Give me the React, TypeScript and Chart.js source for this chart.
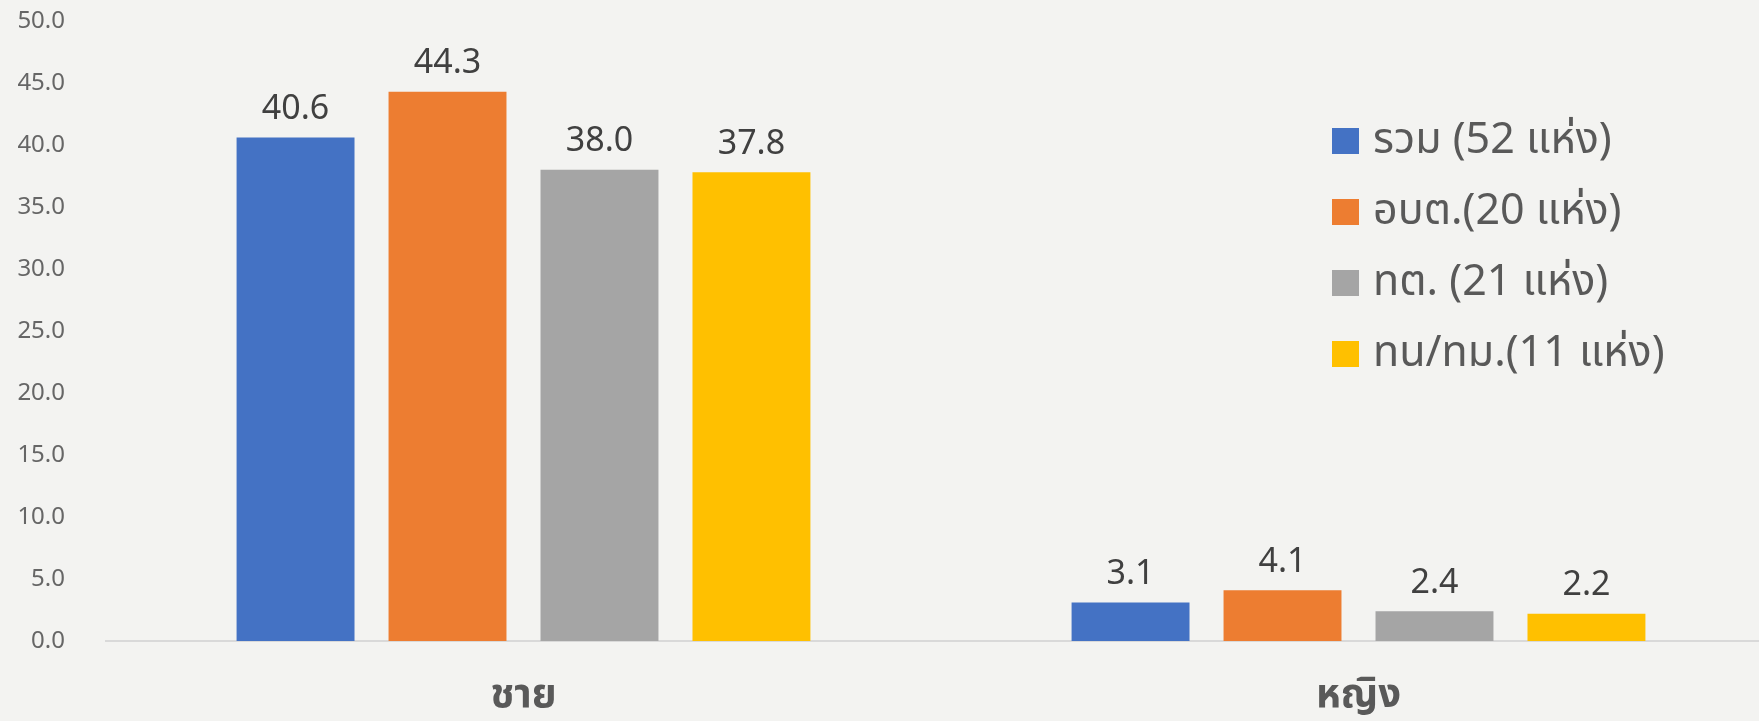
import React, { useEffect, useRef } from "react";
import { Chart, registerables } from "chart.js";

Chart.register(...registerables);

const categories = ["ชาย", "หญิง"];
const seriesNames = ["รวม (52 แห่ง)", "อบต.(20 แห่ง)", "ทต. (21 แห่ง)", "ทน/ทม.(11 แห่ง)"];
const totalValues = [40.6, 3.1];
const sao = [44.3, 4.1];
const tambon = [38.0, 2.4];
const cityTown = [37.8, 2.2];
const seriesColors = ["#4472C4", "#ED7D31", "#A5A5A5", "#FFC000"];
const yTicksMax = 50;
const yStep = 5;

const FONT = "'Noto Sans', 'Noto Sans Thai', 'Leelawadee UI', Tahoma, sans-serif";
const BG = "#f3f3f1";

const dataLabelPlugin = {
  id: "dataLabels",
  afterDatasetsDraw(chart: any) {
    const ctx = chart.ctx;
    ctx.save();
    ctx.font = `34px ${FONT}`;
    ctx.fillStyle = "#404040";
    ctx.textAlign = "center";
    ctx.textBaseline = "middle";
    chart.data.datasets.forEach((ds: any, i: number) => {
      const meta = chart.getDatasetMeta(i);
      meta.data.forEach((el: any, j: number) => {
        ctx.fillText(Number(ds.data[j]).toFixed(1), el.x, el.y - 28);
      });
    });
    ctx.restore();
  },
};

const legendPlugin = {
  id: "customLegend",
  afterDraw(chart: any) {
    const ctx = chart.ctx;
    ctx.save();
    ctx.font = `43px ${FONT}`;
    ctx.textBaseline = "middle";
    ctx.textAlign = "left";
    const x0 = 1332;
    const y0 = 141;
    const dy = 71;
    chart.data.datasets.forEach((ds: any, i: number) => {
      const y = y0 + i * dy;
      ctx.fillStyle = ds.backgroundColor;
      ctx.fillRect(x0, y - 13, 27, 26);
      ctx.fillStyle = "#595959";
      ctx.fillText(ds.label, x0 + 41, y);
    });
    ctx.restore();
  },
};

const bgPlugin = {
  id: "bg",
  beforeDraw(chart: any) {
    const ctx = chart.ctx;
    ctx.save();
    ctx.fillStyle = BG;
    ctx.fillRect(0, 0, chart.width, chart.height);
    ctx.restore();
  },
};

export default function App() {
  const ref = useRef<HTMLCanvasElement | null>(null);

  useEffect(() => {
    document.body.style.margin = "0";
    document.body.style.background = BG;
    const values = [totalValues, sao, tambon, cityTown];
    const chart = new Chart(ref.current as HTMLCanvasElement, {
      type: "bar",
      data: {
        labels: categories,
        datasets: seriesNames.map((name, i) => ({
          label: name,
          data: values[i],
          backgroundColor: seriesColors[i],
          borderWidth: 0,
          categoryPercentage: 0.728,
          barPercentage: 0.776,
        })),
      },
      options: {
        animation: false,
        responsive: false,
        maintainAspectRatio: false,
        layout: { padding: { top: 21, left: 0, right: 0, bottom: 0 } },
        plugins: {
          legend: { display: false },
          tooltip: { enabled: false },
        },
        scales: {
          x: {
            offset: true,
            grid: { display: false, drawTicks: false },
            border: { display: true, color: "#d9d9d9", width: 2 },
            ticks: {
              color: "#595959",
              font: { family: FONT, size: 40, weight: "bold" },
              padding: 31,
            },
            afterFit(scale: any) {
              scale.height = 80;
            },
          },
          y: {
            min: 0,
            max: yTicksMax,
            grid: { display: false, drawTicks: false },
            border: { display: false },
            ticks: {
              stepSize: yStep,
              color: "#666666",
              font: { family: FONT, size: 24 },
              padding: 41,
              callback: (v: any) => Number(v).toFixed(1),
            },
            afterFit(scale: any) {
              scale.width = 106;
              scale.paddingTop = 0;
              scale.paddingBottom = 0;
            },
          },
        },
      },
      plugins: [bgPlugin, dataLabelPlugin, legendPlugin],
    });
    return () => chart.destroy();
  }, []);

  return (
    <div
      style={{
        position: "fixed",
        left: 0,
        top: 0,
        width: 1759,
        height: 721,
        overflow: "hidden",
        background: BG,
      }}
    >
      <canvas ref={ref} width={1776} height={721} style={{ width: 1776, height: 721, display: "block" }} />
    </div>
  );
}
